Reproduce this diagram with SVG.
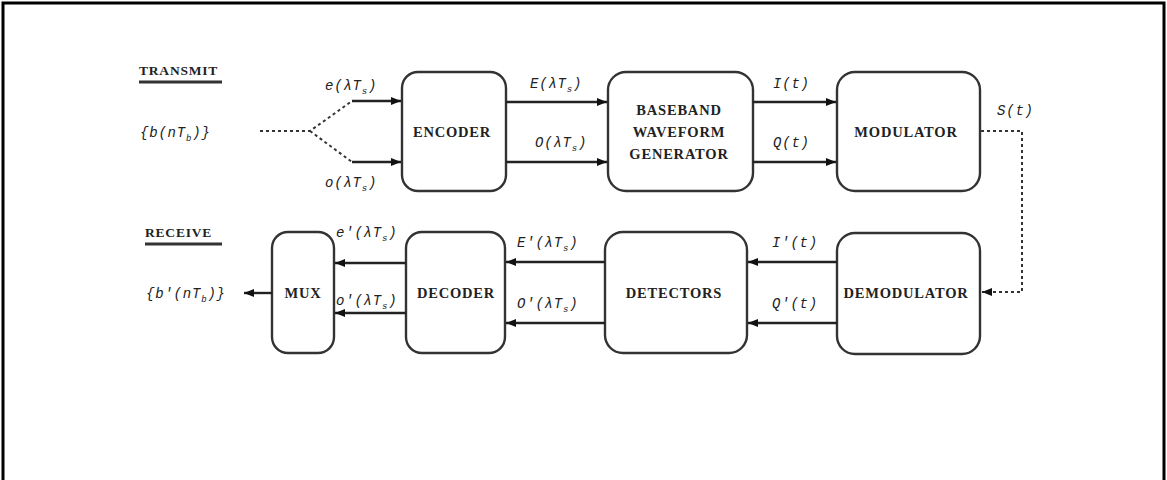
<svg xmlns="http://www.w3.org/2000/svg" width="1167" height="480" viewBox="0 0 1167 480">
<style>
.box{fill:#fff;stroke:#333;stroke-width:2.4}
.bt{font-family:"Liberation Serif",serif;font-weight:bold;font-size:14.5px;letter-spacing:0.8px;fill:#222;text-anchor:middle}
.lb{font-family:"Liberation Mono",monospace;font-style:italic;font-size:14px;letter-spacing:0.8px;fill:#222}
.sub{font-size:9px}
.ln{stroke:#222;stroke-width:2.4;fill:none}
.dot{stroke:#333;stroke-width:2;fill:none;stroke-dasharray:3 3}
.hd{font-family:"Liberation Serif",serif;font-weight:bold;font-size:13.5px;letter-spacing:0.8px;fill:#222}
</style>
<defs>
<marker id="ah" viewBox="0 0 10 8" refX="10" refY="4" markerWidth="10" markerHeight="8" markerUnits="userSpaceOnUse" orient="auto">
<path d="M0,0 L10,4 L0,8 z" fill="#111"/>
</marker>
</defs>
<rect width="1167" height="480" fill="#fff"/>
<path d="M3,482 V3 H1164 V482" fill="none" stroke="#000" stroke-width="3"/>

<g id="headings">
<text class="hd" x="139" y="75">TRANSMIT</text>
<line x1="139" y1="82" x2="222" y2="82" stroke="#333" stroke-width="3"/>
<text class="hd" x="145" y="237">RECEIVE</text>
<line x1="145" y1="244" x2="222" y2="244" stroke="#333" stroke-width="3"/>
<text class="lb" x="140" y="137">{b(nT<tspan class="sub" dy="4">b</tspan><tspan dy="-4">)}</tspan></text>
<text class="lb" x="146" y="298">{b'(nT<tspan class="sub" dy="4">b</tspan><tspan dy="-4">)}</tspan></text>
</g>

<g id="encoder"><rect class="box" x="402" y="72" width="104" height="119" rx="16"/><text class="bt" x="452" y="137">ENCODER</text></g>
<g id="baseband"><rect class="box" x="608" y="72" width="145" height="119" rx="18"/>
<text class="bt" x="679" y="115">BASEBAND</text><text class="bt" x="679" y="137">WAVEFORM</text><text class="bt" x="679" y="159">GENERATOR</text></g>
<g id="modulator"><rect class="box" x="837" y="72" width="143" height="119" rx="18"/><text class="bt" x="906" y="137">MODULATOR</text></g>
<g id="demodulator"><rect class="box" x="837" y="233" width="143" height="121" rx="18"/><text class="bt" x="906" y="298">DEMODULATOR</text></g>
<g id="detectors"><rect class="box" x="605" y="232" width="142" height="121" rx="18"/><text class="bt" x="674" y="298">DETECTORS</text></g>
<g id="decoder"><rect class="box" x="406" y="232" width="99" height="121" rx="16"/><text class="bt" x="456" y="298">DECODER</text></g>
<g id="mux"><rect class="box" x="272" y="232" width="62" height="121" rx="16"/><text class="bt" x="303" y="298">MUX</text></g>

<g id="connectors">
<polyline class="dot" points="260,131 310,131 352,101"/>
<line class="dot" x1="310" y1="131" x2="352" y2="162"/>
<line class="ln" x1="352" y1="101" x2="401" y2="101" marker-end="url(#ah)"/>
<line class="ln" x1="352" y1="162" x2="401" y2="162" marker-end="url(#ah)"/>
<line class="ln" x1="506" y1="102" x2="607" y2="102" marker-end="url(#ah)"/>
<line class="ln" x1="506" y1="162" x2="607" y2="162" marker-end="url(#ah)"/>
<line class="ln" x1="753" y1="102" x2="836" y2="102" marker-end="url(#ah)"/>
<line class="ln" x1="753" y1="162" x2="836" y2="162" marker-end="url(#ah)"/>
<polyline class="dot" points="981,131 1022,131 1022,292 982,292" marker-end="url(#ah)"/>
<line class="ln" x1="837" y1="262" x2="748" y2="262" marker-end="url(#ah)"/>
<line class="ln" x1="837" y1="323" x2="748" y2="323" marker-end="url(#ah)"/>
<line class="ln" x1="605" y1="262" x2="506" y2="262" marker-end="url(#ah)"/>
<line class="ln" x1="605" y1="323" x2="506" y2="323" marker-end="url(#ah)"/>
<line class="ln" x1="406" y1="263" x2="335" y2="263" marker-end="url(#ah)"/>
<line class="ln" x1="406" y1="313" x2="335" y2="313" marker-end="url(#ah)"/>
<line class="ln" x1="272" y1="293" x2="244" y2="293" marker-end="url(#ah)"/>
</g>

<g id="labels">
<text class="lb" x="325" y="90">e(λT<tspan class="sub" dy="4">s</tspan><tspan dy="-4">)</tspan></text>
<text class="lb" x="325" y="187">o(λT<tspan class="sub" dy="4">s</tspan><tspan dy="-4">)</tspan></text>
<text class="lb" x="530" y="88">E(λT<tspan class="sub" dy="4">s</tspan><tspan dy="-4">)</tspan></text>
<text class="lb" x="535" y="147">O(λT<tspan class="sub" dy="4">s</tspan><tspan dy="-4">)</tspan></text>
<text class="lb" x="773" y="88">I(t)</text>
<text class="lb" x="773" y="147">Q(t)</text>
<text class="lb" x="997" y="115">S(t)</text>
<text class="lb" x="772" y="247">I'(t)</text>
<text class="lb" x="772" y="308">Q'(t)</text>
<text class="lb" x="517" y="247">E'(λT<tspan class="sub" dy="4">s</tspan><tspan dy="-4">)</tspan></text>
<text class="lb" x="517" y="308">O'(λT<tspan class="sub" dy="4">s</tspan><tspan dy="-4">)</tspan></text>
<text class="lb" x="336" y="237">e'(λT<tspan class="sub" dy="4">s</tspan><tspan dy="-4">)</tspan></text>
<text class="lb" x="336" y="305">o'(λT<tspan class="sub" dy="4">s</tspan><tspan dy="-4">)</tspan></text>
</g>
</svg>
